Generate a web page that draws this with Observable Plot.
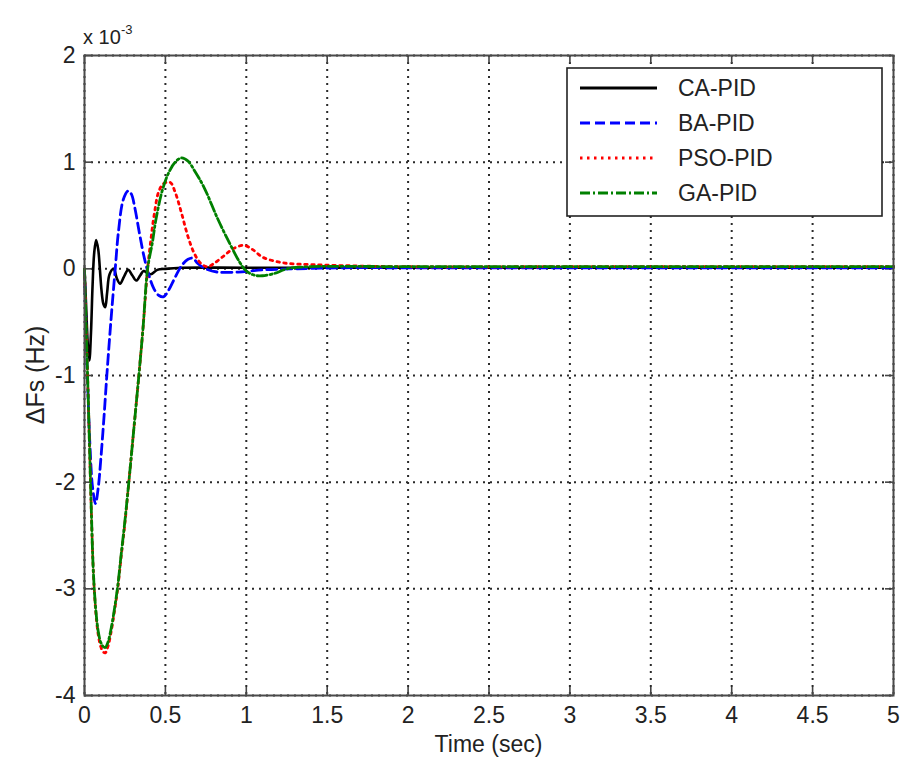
<!DOCTYPE html>
<html>
<head>
<meta charset="utf-8">
<script src="https://cdn.jsdelivr.net/npm/d3@7"></script>
<script src="https://cdn.jsdelivr.net/npm/@observablehq/plot@0.6"></script>
<style>
  html, body { margin: 0; padding: 0; background: #fff; }
  #chart { width: 906px; height: 764px; }
</style>
</head>
<body>
<div id="chart"></div>
<script>
// ---- Data (values in units of 1e-3 Hz, as on the axis "x 10^-3") ----
const seriesNames = ["CA-PID", "BA-PID", "PSO-PID", "GA-PID"];
const seriesColors = ["#000000", "#0000ff", "#ff0000", "#008000"];
const seriesDash = ["none", "10,5", "2.5,4.5", "10,3,2,3"];

const xTicks = [0, 0.5, 1, 1.5, 2, 2.5, 3, 3.5, 4, 4.5, 5];
const yTicks = [-4, -3, -2, -1, 0, 1, 2];

const caTime  = [0, 0.01, 0.02, 0.03, 0.04, 0.05, 0.06, 0.072, 0.085, 0.095, 0.105, 0.117, 0.128, 0.14, 0.155, 0.18, 0.2, 0.22, 0.245, 0.27, 0.295, 0.32, 0.345, 0.365, 0.39, 0.41, 0.45, 0.5, 0.6, 1, 2, 3, 4, 5];
const caValue = [0, -0.35, -0.7, -0.86, -0.6, -0.15, 0.15, 0.27, 0.18, 0.0, -0.2, -0.33, -0.36, -0.22, -0.05, 0.0, -0.09, -0.14, -0.07, -0.01, -0.06, -0.11, -0.06, -0.02, -0.04, -0.05, -0.01, 0.0, 0.01, 0.01, 0.01, 0.01, 0.01, 0.01];

const baTime  = [0, 0.01, 0.02, 0.035, 0.05, 0.068, 0.085, 0.1, 0.12, 0.138, 0.155, 0.17, 0.19, 0.21, 0.24, 0.27, 0.29, 0.31, 0.34, 0.37, 0.4, 0.43, 0.46, 0.49, 0.52, 0.56, 0.6, 0.64, 0.67, 0.7, 0.75, 0.82, 0.95, 1.1, 1.3, 1.6, 2, 3, 4, 5];
const baValue = [0, -0.6, -1.1, -1.7, -2.05, -2.2, -2.05, -1.8, -1.4, -1.0, -0.65, -0.36, 0.0, 0.35, 0.65, 0.73, 0.7, 0.58, 0.33, 0.1, -0.07, -0.19, -0.25, -0.26, -0.2, -0.08, 0.03, 0.09, 0.1, 0.05, 0.0, -0.03, -0.03, -0.01, 0.0, 0.01, 0.01, 0.01, 0.01, 0.01];

const psoTime  = [0, 0.01, 0.02, 0.03, 0.04, 0.055, 0.07, 0.085, 0.1, 0.115, 0.128, 0.145, 0.165, 0.185, 0.205, 0.225, 0.25, 0.274, 0.305, 0.336, 0.362, 0.39, 0.41, 0.43, 0.46, 0.49, 0.53, 0.56, 0.6, 0.64, 0.68, 0.72, 0.76, 0.8, 0.86, 0.92, 0.985, 1.04, 1.1, 1.18, 1.26, 1.4, 1.6, 2, 3, 4, 5];
const psoValue = [0, -0.55, -1.05, -1.6, -2.15, -2.85, -3.22, -3.43, -3.54, -3.59, -3.6, -3.54, -3.4, -3.21, -3.0, -2.72, -2.38, -2.0, -1.5, -1.0, -0.55, 0.0, 0.27, 0.5, 0.73, 0.8, 0.81, 0.72, 0.52, 0.3, 0.14, 0.05, 0.02, 0.05, 0.12, 0.19, 0.22, 0.18, 0.11, 0.07, 0.05, 0.04, 0.03, 0.02, 0.02, 0.02, 0.02];

const gaTime  = [0, 0.01, 0.02, 0.03, 0.04, 0.055, 0.07, 0.085, 0.1, 0.115, 0.128, 0.145, 0.165, 0.185, 0.205, 0.225, 0.25, 0.274, 0.305, 0.336, 0.362, 0.39, 0.42, 0.44, 0.48, 0.52, 0.56, 0.6, 0.64, 0.68, 0.74, 0.82, 0.9, 0.96, 1.0, 1.05, 1.1, 1.18, 1.25, 1.4, 2, 3, 4, 5];
const gaValue = [0, -0.55, -1.05, -1.6, -2.15, -2.85, -3.2, -3.4, -3.5, -3.54, -3.55, -3.5, -3.37, -3.19, -2.98, -2.7, -2.36, -2.0, -1.5, -1.0, -0.55, 0.0, 0.25, 0.45, 0.73, 0.9, 1.0, 1.04, 1.01, 0.92, 0.76, 0.48, 0.23, 0.06, -0.02, -0.06, -0.065, -0.04, 0.0, 0.02, 0.02, 0.02, 0.02, 0.02];

const seriesTimes = [caTime, baTime, psoTime, gaTime];
const seriesValues = [caValue, baValue, psoValue, gaValue];

// ---- Layout ----
const W = 906, H = 764;
const mL = 84, mR = 13, mT = 55, mB = 69;
const plotH = H - mT - mB;
const plotW = W - mL - mR;
const FONT = "'Liberation Sans', Arial, Helvetica, sans-serif";
const TXT = "#222";

const tables = seriesNames.map((name, i) =>
  seriesTimes[i].map((t, j) => ({series: name, t, v: seriesValues[i][j]}))
);

const gridStyle = {stroke: "#2a2a2a", strokeOpacity: 1, strokeWidth: 2, strokeDasharray: "2,5"};
const tickStyle = {stroke: "#444", strokeWidth: 1.6};

const lineMarks = tables.map((rows, i) =>
  Plot.line(rows, {
    x: "t", y: "v",
    stroke: seriesColors[i],
    strokeWidth: i === 0 ? 2.6 : 2.8,
    strokeDasharray: seriesDash[i] === "none" ? null : seriesDash[i],
    curve: "catmull-rom"
  })
);

const chart = Plot.plot({
  width: W, height: H,
  marginLeft: mL, marginRight: mR, marginTop: mT, marginBottom: mB,
  style: {fontFamily: FONT, fontSize: "23px", background: "#fff", color: TXT},
  x: {domain: [0, 5], ticks: xTicks, label: null},
  y: {domain: [-4, 2], ticks: yTicks, label: null},
  marks: [
    Plot.gridX(xTicks, gridStyle),
    Plot.gridY(yTicks, gridStyle),
    Plot.ruleX(xTicks, {...tickStyle, insetTop: plotH - 8}),
    Plot.ruleX(xTicks, {...tickStyle, insetBottom: plotH - 8}),
    Plot.ruleY(yTicks, {...tickStyle, insetRight: plotW - 8}),
    Plot.ruleY(yTicks, {...tickStyle, insetLeft: plotW - 8}),
    ...lineMarks,
    Plot.frame({stroke: "#4a4a4a", strokeWidth: 2}),
    Plot.axisX({ticks: xTicks, tickSize: 0, tickPadding: 11, tickFormat: d => String(d), fontSize: 23, label: null}),
    Plot.axisY({ticks: yTicks, tickSize: 0, tickPadding: 9, tickFormat: d => String(d), fontSize: 23, label: null})
  ]
});

document.getElementById("chart").appendChild(chart);

const svg = d3.select(chart);

// axis titles
svg.append("text")
  .attr("x", (mL + W - mR) / 2).attr("y", H - 12)
  .attr("text-anchor", "middle")
  .attr("font-family", FONT).attr("font-size", 23).attr("fill", TXT)
  .text("Time (sec)");

svg.append("text")
  .attr("transform", `translate(${44},${mT + plotH / 2}) rotate(-90)`)
  .attr("text-anchor", "middle")
  .attr("font-family", FONT).attr("font-size", 25).attr("fill", TXT)
  .text("\u0394Fs (Hz)");

// exponent label "x 10^-3"
const expG = svg.append("g").attr("transform", `translate(${mL - 1},${44})`)
  .attr("font-family", FONT).attr("fill", TXT).attr("text-anchor", "start");
expG.append("text").attr("font-size", 20).attr("text-anchor", "start").text("x 10");
expG.append("text").attr("x", 38).attr("y", -10).attr("font-size", 13).attr("text-anchor", "start").text("-3");

// legend
const lg = svg.append("g").attr("transform", "translate(567,68)");
lg.append("rect").attr("width", 315).attr("height", 148)
  .attr("fill", "#fff").attr("stroke", "#222").attr("stroke-width", 1.6);
seriesNames.forEach((name, i) => {
  const yy = 20 + i * 35;
  lg.append("line").attr("x1", 13).attr("x2", 90).attr("y1", yy).attr("y2", yy)
    .attr("stroke", seriesColors[i]).attr("stroke-width", 3)
    .attr("stroke-dasharray", seriesDash[i] === "none" ? null : seriesDash[i]);
  lg.append("text").attr("x", 111).attr("y", yy).attr("dy", "0.36em")
    .attr("text-anchor", "start")
    .attr("font-family", FONT).attr("font-size", 23).attr("fill", TXT)
    .text(name);
});
</script>
</body>
</html>
